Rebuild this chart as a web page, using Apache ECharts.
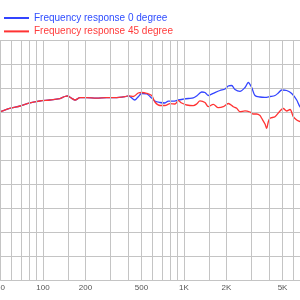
<!DOCTYPE html>
<html><head><meta charset="utf-8">
<script src="https://cdn.jsdelivr.net/npm/echarts@6/dist/echarts.min.js"></script>
<style>html,body{margin:0;padding:0;background:#fff}#c{width:300px;height:300px}</style>
</head><body><div id="c"></div>
<script>
const seriesNames = ['Frequency response 0 degree', 'Frequency response 45 degree'];
const freq0 = [50,58,69,81,95,112,132,143,150,160,169,183,204,240,283,324,382,403,
  449,474,501,544,574,622,676,733,774,840,911,989,1073,1164,1230,1335,1409,1487,1614,1799,1954,2061,
  2178,2300,2495,2708,2858,3021,3188,3459,3754,4074,4420,4667,4932,5346,5807,6299,6650,7210];
const spl0 = [85.06,85.77,86.25,86.90,87.29,87.5,87.81,88.23,88.33,87.85,87.5,87.98,87.98,87.88,87.98,87.98,88.19,88.38,
  87.5,88.19,88.85,88.79,88.23,87.29,86.98,86.875,87.25,87.25,87.5,87.67,87.81,87.92,88.33,89.17,89.06,88.44,88.9,89.48,89.79,90.42,
  90.52,89.69,89.31,90.1,91.15,90.1,88.44,88.125,88.06,88.23,88.44,88.96,89.58,89.48,88.85,87.5,86.1,85.4];
const freq45 = [50,58,69,81,95,112,132,143,150,160,169,183,204,240,283,324,382,403,437,474,
  501,544,590,622,676,733,796,863,911,963,1045,1164,1230,1299,1409,1487,1614,1751,1900,2061,
  2237,2365,2495,2708,2938,3101,3278,3459,3556,3754,3859,3963,4074,4420,4797,5060,5346,5649,5960,6299,6650,7210];
const spl45 = [85.06,85.77,86.25,86.90,87.29,87.5,87.81,88.23,88.33,87.85,87.5,87.98,87.98,87.88,87.98,87.98,88.19,88.38,88.23,88.96,
  89.06,88.9,88.44,87.08,86.35,86.35,86.73,86.67,87.35,86.87,86.46,86.31,86.67,87.33,86.98,86.1,86.6,85.9,86.1,86.77,
  86.1,85.77,85.06,85.25,85.0,84.58,84.58,84.27,83.69,82.5,81.6,82.98,83.69,84.02,85.21,85.73,85.21,85.52,84.02,83.33,83.02,82.92];
const gridFreqs = [50,60,70,80,90,100,150,200,300,400,500,600,700,800,900,1000,1500,2000,3000,4000,5000,6000,7000,8000,9000,10000];
const labelFreqs = [50,100,200,500,1000,2000,5000];
const labelTexts = ['50','100','200','500','1K','2K','5K'];

const gridColor = '#c4c4c4';
const chart = echarts.init(document.getElementById('c'), null, {renderer: 'canvas'});
const vLines = gridFreqs.map(f => {
  const i = labelFreqs.indexOf(f);
  return {
    xAxis: f,
    label: {show: i >= 0, formatter: i >= 0 ? labelTexts[i] : '', position: 'start', distance: 4,
      color: '#555', fontSize: 8, fontFamily: 'Liberation Sans'}
  };
});
chart.setOption({
  animation: false,
  grid: {left: 0.5, right: -25, top: 40, bottom: 20, outerBoundsMode: 'none', containLabel: false},
  legend: {
    orient: 'vertical', left: -2, top: 7, itemWidth: 25, itemHeight: 12, itemGap: 1.4,
    itemStyle: {opacity: 0},
    textStyle: {fontSize: 10, fontFamily: 'Liberation Sans', lineHeight: 12},
    data: [
      {name: seriesNames[0], textStyle: {color: '#2f4dff'}},
      {name: seriesNames[1], textStyle: {color: '#ff3b3b'}}
    ]
  },
  xAxis: {
    type: 'log', logBase: 10, min: 50, max: 10000,
    axisLine: {show: true, lineStyle: {color: gridColor, width: 1}},
    axisTick: {show: false}, axisLabel: {show: false}, splitLine: {show: false}
  },
  yAxis: {
    type: 'value', min: 50, max: 100, interval: 5,
    axisLine: {show: false}, axisTick: {show: false}, axisLabel: {show: false},
    splitLine: {show: true, lineStyle: {color: gridColor, width: 1}}
  },
  series: [
    {
      name: 'grid', type: 'line', data: [], z: 1, silent: true,
      markLine: {silent: true, symbol: 'none', animation: false,
        lineStyle: {color: gridColor, width: 1, type: 'solid'},
        data: vLines}
    },
    {
      name: seriesNames[0], type: 'line', symbol: 'none', smooth: 0.3, z: 3,
      lineStyle: {color: '#3344ff', width: 1.3}, itemStyle: {color: '#3344ff'},
      data: freq0.map((f, i) => [f, spl0[i]])
    },
    {
      name: seriesNames[1], type: 'line', symbol: 'none', smooth: 0.3, z: 4,
      lineStyle: {color: '#ff3333', width: 1.3}, itemStyle: {color: '#ff3333'},
      data: freq45.map((f, i) => [f, spl45[i]])
    }
  ]
});
</script></body></html>
